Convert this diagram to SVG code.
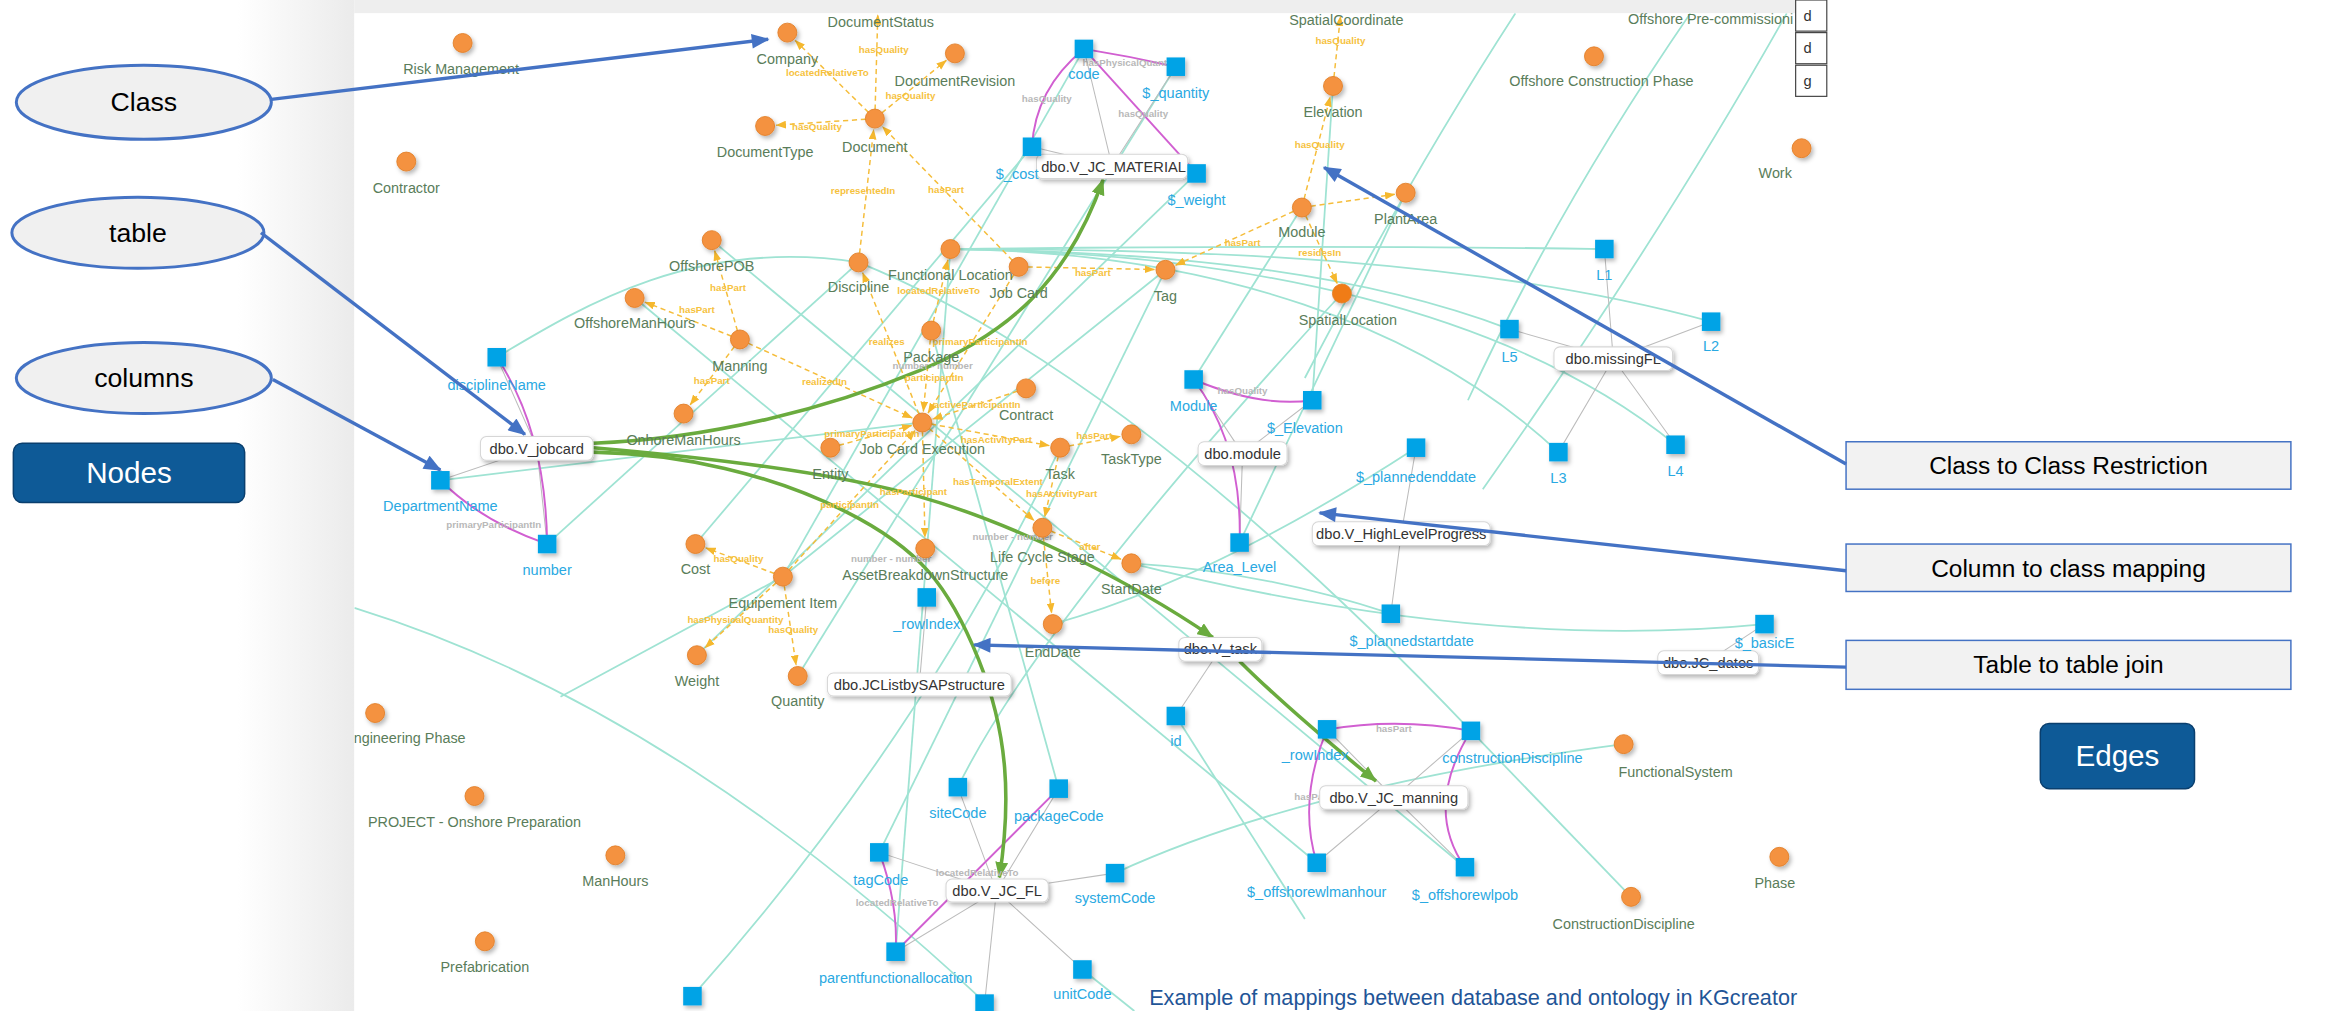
<svg xmlns="http://www.w3.org/2000/svg" width="2325" height="1011" viewBox="0 0 2325 1011">
<defs>
<style>
.cl{font-family:"Liberation Sans",Arial,sans-serif;font-size:9.7px;fill:#5a7d5a;text-anchor:middle}
.sl{font-family:"Liberation Sans",Arial,sans-serif;font-size:9.8px;fill:#2aa9e2;text-anchor:middle}
.bt{font-family:"Liberation Sans",Arial,sans-serif;font-size:9.9px;fill:#333;text-anchor:middle}
.ol{font-family:"Liberation Sans",Arial,sans-serif;font-size:6.6px;font-weight:bold;fill:#f6c23e;text-anchor:middle}
.gl{font-family:"Liberation Sans",Arial,sans-serif;font-size:6.6px;font-weight:bold;fill:#b8b8b8;text-anchor:middle}
.c{fill:#f4923f;stroke:#e2802a;stroke-width:0.6;filter:url(#sh)}
.sq{fill:#06a3e6;filter:url(#sh)}
.bx{fill:#fff;stroke:#d6d6d6;stroke-width:0.7;filter:url(#sh)}
.teal path{fill:none;stroke:#9fe3d3;stroke-width:1.2}
.gray path{fill:none;stroke:#bcbcbc;stroke-width:0.7}
.mag path{fill:none;stroke:#d15fd1;stroke-width:1.3}
.dash path{fill:none;stroke:#f5bd3b;stroke-width:1;stroke-dasharray:3.5 2.5;marker-end:url(#oa)}
.green path{fill:none;stroke:#6aab3e;stroke-width:2.4;marker-end:url(#ga)}
.blue path{fill:none;stroke:#4472c4;stroke-width:2.3;marker-end:url(#ba)}
.ell{fill:#f0f0f0;stroke:#4472c4;stroke-width:2}
.ct{font-family:"Liberation Sans",Arial,sans-serif;font-size:18px;fill:#000;text-anchor:middle}
.dk{fill:#0e5a97;stroke:#0a3f6e;stroke-width:1}
.dt{font-family:"Liberation Sans",Arial,sans-serif;font-size:20px;fill:#fff;text-anchor:middle}
.rb{fill:#f2f2f2;stroke:#4472c4;stroke-width:1}
.rt{font-family:"Liberation Sans",Arial,sans-serif;font-size:16.5px;fill:#000;text-anchor:middle}
</style>
<filter id="sh" x="-60%" y="-60%" width="220%" height="220%"><feDropShadow dx="1.4" dy="1.8" stdDeviation="1.5" flood-color="#000" flood-opacity="0.28"/></filter>
<linearGradient id="lg" x1="0" y1="0" x2="1" y2="0"><stop offset="0" stop-color="#ffffff"/><stop offset="1" stop-color="#ebebeb"/></linearGradient>
<clipPath id="pc"><rect x="239" y="9" width="993" height="673"/></clipPath>
<marker id="oa" viewBox="0 0 8 6" refX="7.5" refY="3" markerWidth="7" markerHeight="5.5" markerUnits="userSpaceOnUse" orient="auto"><path d="M0,0L8,3L0,6z" fill="#f5b82e"/></marker>
<marker id="ga" viewBox="0 0 10 8" refX="9.5" refY="4" markerWidth="11" markerHeight="9" markerUnits="userSpaceOnUse" orient="auto"><path d="M0,0L10,4L0,8z" fill="#6aab3e"/></marker>
<marker id="ba" viewBox="0 0 12 10" refX="11" refY="5" markerWidth="13" markerHeight="10" markerUnits="userSpaceOnUse" orient="auto"><path d="M0,0L12,5L0,10z" fill="#4472c4"/></marker>
</defs>
<rect width="2325" height="1011" fill="#fff"/>
<g transform="scale(1.48278 1.4824)">
<rect x="160" y="0" width="79" height="682" fill="url(#lg)"/>
<rect x="239" y="0" width="993" height="9" fill="#eeeeee"/>
<rect x="239" y="9" width="993" height="673" fill="#fff"/>

<g clip-path="url(#pc)">
<g id="connectors">
<g class="teal">
<path d="M335,241 C395,205 470,160 579,177"/>
<path d="M297,324 L622,285"/>
<path d="M369,367 L579,177"/>
<path d="M239,410 C400,460 540,560 664,676"/>
<path d="M467,672 Q620,500 715,302"/>
<path d="M593,575 L786,182"/>
<path d="M378,470 L528,389 L786,182"/>
<path d="M646,531 Q700,420 905,198"/>
<path d="M714,532 L628,223"/>
<path d="M752,589 Q880,530 1095,502"/>
<path d="M730,654 L765,682"/>
<path d="M604,642 L641,168"/>
<path d="M793,483 L880,620"/>
<path d="M805,256 L878,140"/>
<path d="M885,270 L899,58"/>
<path d="M836,366 L948,130"/>
<path d="M641,168 C800,166 950,166 1082,168"/>
<path d="M641,168 C820,168 1000,175 1154,217"/>
<path d="M641,168 C800,170 920,185 1018,222"/>
<path d="M641,168 C820,170 960,220 1051,305"/>
<path d="M641,168 C840,170 1020,210 1130,300"/>
<path d="M938,414 Q850,385 763,380"/>
<path d="M955,302 Q820,390 710,421"/>
<path d="M696,99 L469,367"/>
<path d="M731,33 L528,389"/>
<path d="M793,45 L538,456"/>
<path d="M807,117 L470,442"/>
<path d="M480,162 L988,585"/>
<path d="M428,201 L888,582"/>
<path d="M992,493 Q760,250 579,177"/>
<path d="M992,493 L1100,605"/>
<path d="M1190,421 Q1000,440 763,380"/>
<path d="M1022,9 Q950,120 880,255"/>
<path d="M1140,9 Q1050,140 990,270"/>
<path d="M1205,9 Q1120,160 1000,330"/>
</g>
<g class="gray">
<path d="M750,112 L731,33 M750,112 L793,45 M750,112 L696,99 M750,112 L807,117"/>
<path d="M362,302 L297,324 M362,302 L335,241 M362,302 L369,367"/>
<path d="M838,306 L805,256 M838,306 L885,270 M838,306 L836,366"/>
<path d="M945,360 L955,302 M945,360 L938,414"/>
<path d="M1088,242 L1082,168 M1088,242 L1154,217 M1088,242 L1018,222 M1088,242 L1051,305 M1088,242 L1130,300"/>
<path d="M1152,446 L1190,421"/>
<path d="M823,438 L793,483"/>
<path d="M620,462 L625,403"/>
<path d="M940,538 L895,492 M940,538 L992,493 M940,538 L888,582 M940,538 L988,585"/>
<path d="M672,601 L646,531 M672,601 L714,532 M672,601 L593,575 M672,601 L604,642 M672,601 L752,589 M672,601 L730,654 M672,601 L664,677"/>
</g>
<g class="mag">
<path d="M731,33 Q762,38 793,45"/>
<path d="M731,33 Q698,60 696,99"/>
<path d="M731,33 L807,117"/>
<path d="M335,241 Q368,290 369,367"/>
<path d="M297,324 Q325,352 369,367"/>
<path d="M805,256 Q838,300 836,366"/>
<path d="M805,256 Q850,275 885,270"/>
<path d="M895,492 Q943,484 992,493"/>
<path d="M895,492 Q875,540 888,582"/>
<path d="M992,493 Q960,545 988,585"/>
<path d="M593,575 Q606,610 604,642"/>
<path d="M714,532 L604,642"/>
</g>
<g class="dash">
<path d="M590,80 L536.3,27.3"/>
<path d="M590,80 L592,10"/>
<path d="M590,80 L638.2,40.7"/>
<path d="M590,80 L523.5,84.5"/>
<path d="M579,177 L589.2,87.5"/>
<path d="M687,180 L595.2,85.4"/>
<path d="M687,180 L778.5,181.8"/>
<path d="M878,140 L792.8,178.9"/>
<path d="M628,223 L639.3,175.3"/>
<path d="M622,285 L581.8,184"/>
<path d="M499,229 L482,169.2"/>
<path d="M499,229 L435,203.8"/>
<path d="M499,229 L465.5,273"/>
<path d="M499,229 L615.2,281.9"/>
<path d="M687,180 L625.9,278.6"/>
<path d="M628,223 L622.7,277.5"/>
<path d="M692,262 L629.1,282.7"/>
<path d="M622,285 L707.6,300.6"/>
<path d="M715,302 L755.6,294.4"/>
<path d="M560,302 L614.8,287"/>
<path d="M528,389 L617,290.6"/>
<path d="M622,285 L623.8,362.5"/>
<path d="M622,285 L697.4,351.1"/>
<path d="M715,302 L704.6,348.7"/>
<path d="M703,356 L756,377.2"/>
<path d="M703,356 L709.2,413.5"/>
<path d="M528,389 L476,369.6"/>
<path d="M528,389 L475.5,437"/>
<path d="M528,389 L536.9,448.6"/>
<path d="M878,140 L897.1,65.3"/>
<path d="M899,58 L904,11"/>
<path d="M878,140 L901.8,191.2"/>
<path d="M878,140 L940.6,131.1"/>
</g>
<g class="green">
<path d="M400,299 C480,296 560,275 620,250 S720,190 744,121"/>
<path d="M400,302 C470,308 560,318 620,335 S760,390 818,430"/>
<path d="M400,305 C460,306 520,320 570,345 S640,395 660,445 S682,540 674,592"/>
<path d="M836,446 C860,470 895,500 928,527"/>
</g>
<g id="edge-labels">
<text class="ol" x="558" y="51">locatedRelativeTo</text>
<text class="ol" x="596" y="36">hasQuality</text>
<text class="ol" x="614" y="67">hasQuality</text>
<text class="ol" x="551" y="88">hasQuality</text>
<text class="ol" x="582" y="131">representedIn</text>
<text class="ol" x="638" y="130">hasPart</text>
<text class="ol" x="737" y="186">hasPart</text>
<text class="ol" x="838" y="166">hasPart</text>
<text class="ol" x="633" y="198">locatedRelativeTo</text>
<text class="ol" x="598" y="233">realizes</text>
<text class="ol" x="491" y="196">hasPart</text>
<text class="ol" x="470" y="211">hasPart</text>
<text class="ol" x="480" y="259">hasPart</text>
<text class="ol" x="556" y="260">realizedIn</text>
<text class="ol" x="661" y="233">primaryParticipantIn</text>
<text class="ol" x="630" y="257">participantIn</text>
<text class="ol" x="659" y="275">activeParticipantIn</text>
<text class="ol" x="672" y="299">hasActivityPart</text>
<text class="ol" x="738" y="296">hasPart</text>
<text class="ol" x="588" y="295">primaryParticipantIn</text>
<text class="ol" x="573" y="343">participantIn</text>
<text class="ol" x="616" y="334">hasParticipant</text>
<text class="ol" x="673" y="327">hasTemporalExtent</text>
<text class="ol" x="716" y="335">hasActivityPart</text>
<text class="ol" x="735" y="371">after</text>
<text class="ol" x="705" y="394">before</text>
<text class="ol" x="498" y="379">hasQuality</text>
<text class="ol" x="496" y="420">hasPhysicalQuantity</text>
<text class="ol" x="535" y="427">hasQuality</text>
<text class="ol" x="890" y="100">hasQuality</text>
<text class="ol" x="904" y="30">hasQuality</text>
<text class="ol" x="890" y="173">residesIn</text>
<text class="gl" x="706" y="69">hasQuality</text>
<text class="gl" x="730" y="44.5" style="text-anchor:start">hasPhysicalQuantity</text>
<text class="gl" x="771" y="79">hasQuality</text>
<text class="gl" x="333" y="356">primaryParticipantIn</text>
<text class="gl" x="838" y="266">hasQuality</text>
<text class="gl" x="629" y="249">number - number</text>
<text class="gl" x="683" y="364">number - number</text>
<text class="gl" x="601" y="379">number - number</text>
<text class="gl" x="659" y="591">locatedRelativeTo</text>
<text class="gl" x="605" y="611">locatedRelativeTo</text>
<text class="gl" x="940" y="494">hasPart</text>
<text class="gl" x="885" y="540">hasPart</text>
</g>
</g>

<g id="classes">
<g id="n-risk"><circle class="c" cx="312" cy="29" r="6.4"/><text class="cl" x="311" y="50">Risk Management</text></g>
<g id="n-contractor"><circle class="c" cx="274" cy="109" r="6.4"/><text class="cl" x="274" y="130">Contractor</text></g>
<g id="n-company"><circle class="c" cx="531" cy="22" r="6.4"/><text class="cl" x="531" y="43">Company</text></g>
<g id="n-docstatus"><text class="cl" x="594" y="18">DocumentStatus</text></g>
<g id="n-docrevision"><circle class="c" cx="644" cy="36" r="6.4"/><text class="cl" x="644" y="58">DocumentRevision</text></g>
<g id="n-doctype"><circle class="c" cx="516" cy="85" r="6.4"/><text class="cl" x="516" y="106">DocumentType</text></g>
<g id="n-document"><circle class="c" cx="590" cy="80" r="6.4"/><text class="cl" x="590" y="102.5">Document</text></g>
<g id="n-discipline"><circle class="c" cx="579" cy="177" r="6.4"/><text class="cl" x="579" y="197">Discipline</text></g>
<g id="n-offshorepob"><circle class="c" cx="480" cy="162" r="6.4"/><text class="cl" x="480" y="183">OffshorePOB</text></g>
<g id="n-offshoremanhours"><circle class="c" cx="428" cy="201" r="6.4"/><text class="cl" x="428" y="221">OffshoreManHours</text></g>
<g id="n-manning"><circle class="c" cx="499" cy="229" r="6.4"/><text class="cl" x="499" y="250">Manning</text></g>
<g id="n-onhoremanhours"><circle class="c" cx="461" cy="279" r="6.4"/><text class="cl" x="461" y="300">OnhoreManHours</text></g>
<g id="n-functionallocation"><circle class="c" cx="641" cy="168" r="6.4"/><text class="cl" x="641" y="189">Functional Location</text></g>
<g id="n-jobcard"><circle class="c" cx="687" cy="180" r="6.4"/><text class="cl" x="687" y="201">Job Card</text></g>
<g id="n-tag"><circle class="c" cx="786" cy="182" r="6.4"/><text class="cl" x="786" y="203">Tag</text></g>
<g id="n-package"><circle class="c" cx="628" cy="223" r="6.4"/><text class="cl" x="628" y="244">Package</text></g>
<g id="n-contract"><circle class="c" cx="692" cy="262" r="6.4"/><text class="cl" x="692" y="283">Contract</text></g>
<g id="n-jce"><circle class="c" cx="622" cy="285" r="6.4"/><text class="cl" x="622" y="306">Job Card Execution</text></g>
<g id="n-task"><circle class="c" cx="715" cy="302" r="6.4"/><text class="cl" x="715" y="323">Task</text></g>
<g id="n-tasktype"><circle class="c" cx="763" cy="293" r="6.4"/><text class="cl" x="763" y="313">TaskType</text></g>
<g id="n-entity"><circle class="c" cx="560" cy="302" r="6.4"/><text class="cl" x="560" y="323">Entity</text></g>
<g id="n-cost"><circle class="c" cx="469" cy="367" r="6.4"/><text class="cl" x="469" y="387">Cost</text></g>
<g id="n-equip"><circle class="c" cx="528" cy="389" r="6.4"/><text class="cl" x="528" y="410">Equipement Item</text></g>
<g id="n-weight"><circle class="c" cx="470" cy="442" r="6.4"/><text class="cl" x="470" y="463">Weight</text></g>
<g id="n-quantity"><circle class="c" cx="538" cy="456" r="6.4"/><text class="cl" x="538" y="476">Quantity</text></g>
<g id="n-abs"><circle class="c" cx="624" cy="370" r="6.4"/><text class="cl" x="624" y="391">AssetBreakdownStructure</text></g>
<g id="n-lcs"><circle class="c" cx="703" cy="356" r="6.4"/><text class="cl" x="703" y="379">Life Cycle Stage</text></g>
<g id="n-startdate"><circle class="c" cx="763" cy="380" r="6.4"/><text class="cl" x="763" y="401">StartDate</text></g>
<g id="n-enddate"><circle class="c" cx="710" cy="421" r="6.4"/><text class="cl" x="710" y="443">EndDate</text></g>
<g id="n-moduleclass"><circle class="c" cx="878" cy="140" r="6.4"/><text class="cl" x="878" y="160">Module</text></g>
<g id="n-plantarea"><circle class="c" cx="948" cy="130" r="6.4"/><text class="cl" x="948" y="151">PlantArea</text></g>
<g id="n-elevation"><circle class="c" cx="899" cy="58" r="6.4"/><text class="cl" x="899" y="79">Elevation</text></g>
<g id="n-spatialcoord"><text class="cl" x="908" y="17">SpatialCoordinate</text></g>
<g id="n-spatiallocation"><circle class="c" cx="905" cy="198" r="6.4" style="fill:#f07b14"/><text class="cl" x="909" y="219">SpatialLocation</text></g>
<g id="n-offconstruction"><circle class="c" cx="1075" cy="38" r="6.4"/><text class="cl" x="1080" y="58">Offshore Construction Phase</text></g>
<g id="n-offprecomm"><text class="cl" x="1098" y="16" style="text-anchor:start">Offshore Pre-commissioni</text></g>
<g id="n-work"><circle class="c" cx="1215" cy="100" r="6.4"/><text class="cl" x="1186" y="120" style="text-anchor:start">Work</text></g>
<g id="n-functionalsystem"><circle class="c" cx="1095" cy="502" r="6.4"/><text class="cl" x="1130" y="524">FunctionalSystem</text></g>
<g id="n-constructiondiscipline"><circle class="c" cx="1100" cy="605" r="6.4"/><text class="cl" x="1095" y="627">ConstructionDiscipline</text></g>
<g id="n-phase"><circle class="c" cx="1200" cy="578" r="6.4"/><text class="cl" x="1197" y="599">Phase</text></g>
<g id="n-engphase"><circle class="c" cx="253" cy="481" r="6.4"/><text class="cl" x="314" y="501" style="text-anchor:end">ngineering Phase</text></g>
<g id="n-onshoreprep"><circle class="c" cx="320" cy="537" r="6.4"/><text class="cl" x="320" y="558">PROJECT -  Onshore Preparation</text></g>
<g id="n-manhours"><circle class="c" cx="415" cy="577" r="6.4"/><text class="cl" x="415" y="598">ManHours</text></g>
<g id="n-prefab"><circle class="c" cx="327" cy="635" r="6.4"/><text class="cl" x="327" y="656">Prefabrication</text></g>
</g>

<g id="tables">
<g id="t-material"><rect class="bx" x="699" y="104" width="102" height="16.5" rx="4"/><text class="bt" x="751" y="115.8">dbo.V_JC_MATERIAL</text></g>
<g id="t-jobcard"><rect class="bx" x="324" y="294.5" width="76" height="16" rx="4"/><text class="bt" x="362" y="306">dbo.V_jobcard</text></g>
<g id="t-module"><rect class="bx" x="808" y="298" width="60" height="16" rx="4"/><text class="bt" x="838" y="309.5">dbo.module</text></g>
<g id="t-hlp"><rect class="bx" x="885" y="352" width="120" height="16" rx="4"/><text class="bt" x="945" y="363.5">dbo.V_HighLevelProgress</text></g>
<g id="t-missingfl"><rect class="bx" x="1048" y="234" width="80" height="16" rx="4"/><text class="bt" x="1088" y="245.5">dbo.missingFL</text></g>
<g id="t-jcdates"><rect class="bx" x="1118" y="439" width="68" height="16" rx="4"/><text class="bt" x="1152" y="450.5">dbo.JC_dates</text></g>
<g id="t-vtask"><rect class="bx" x="795" y="430" width="56" height="16" rx="4"/><text class="bt" x="823" y="441.5">dbo.V_task</text></g>
<g id="t-jclist"><rect class="bx" x="558" y="454" width="124" height="15.5" rx="4"/><text class="bt" x="620" y="465.3">dbo.JCListbySAPstructure</text></g>
<g id="t-manning"><rect class="bx" x="890" y="530" width="100" height="16" rx="4"/><text class="bt" x="940" y="541.5">dbo.V_JC_manning</text></g>
<g id="t-jcfl"><rect class="bx" x="638" y="593" width="69" height="15.5" rx="4"/><text class="bt" x="672.5" y="604.5">dbo.V_JC_FL</text></g>
</g>

<g id="columns">
<g id="col-code"><rect class="sq" x="724.75" y="26.75" width="12.5" height="12.5"/><text class="sl" x="731" y="53.5">code</text></g>
<g id="col-quantity"><rect class="sq" x="786.75" y="38.75" width="12.5" height="12.5"/><text class="sl" x="793" y="66">$_quantity</text></g>
<g id="col-cost"><rect class="sq" x="689.75" y="92.75" width="12.5" height="12.5"/><text class="sl" x="686" y="121">$_cost</text></g>
<g id="col-weight"><rect class="sq" x="800.75" y="110.75" width="12.5" height="12.5"/><text class="sl" x="807" y="138">$_weight</text></g>
<g id="col-disciplinename"><rect class="sq" x="328.75" y="234.75" width="12.5" height="12.5"/><text class="sl" x="335" y="263">disciplineName</text></g>
<g id="col-departmentname"><rect class="sq" x="290.75" y="317.75" width="12.5" height="12.5"/><text class="sl" x="297" y="345">DepartmentName</text></g>
<g id="col-number"><rect class="sq" x="362.75" y="360.75" width="12.5" height="12.5"/><text class="sl" x="369" y="388">number</text></g>
<g id="col-module"><rect class="sq" x="798.75" y="249.75" width="12.5" height="12.5"/><text class="sl" x="805" y="277">Module</text></g>
<g id="col-elevation"><rect class="sq" x="878.75" y="263.75" width="12.5" height="12.5"/><text class="sl" x="880" y="292">$_Elevation</text></g>
<g id="col-arealevel"><rect class="sq" x="829.75" y="359.75" width="12.5" height="12.5"/><text class="sl" x="836" y="386">Area_Level</text></g>
<g id="col-plannedend"><rect class="sq" x="948.75" y="295.75" width="12.5" height="12.5"/><text class="sl" x="955" y="325">$_plannedenddate</text></g>
<g id="col-plannedstart"><rect class="sq" x="931.75" y="407.75" width="12.5" height="12.5"/><text class="sl" x="952" y="436">$_plannedstartdate</text></g>
<g id="col-l1"><rect class="sq" x="1075.75" y="161.75" width="12.5" height="12.5"/><text class="sl" x="1082" y="189">L1</text></g>
<g id="col-l2"><rect class="sq" x="1147.75" y="210.75" width="12.5" height="12.5"/><text class="sl" x="1154" y="237">L2</text></g>
<g id="col-l5"><rect class="sq" x="1011.75" y="215.75" width="12.5" height="12.5"/><text class="sl" x="1018" y="244">L5</text></g>
<g id="col-l3"><rect class="sq" x="1044.75" y="298.75" width="12.5" height="12.5"/><text class="sl" x="1051" y="326">L3</text></g>
<g id="col-l4"><rect class="sq" x="1123.75" y="293.75" width="12.5" height="12.5"/><text class="sl" x="1130" y="321">L4</text></g>
<g id="col-basice"><rect class="sq" x="1183.75" y="414.75" width="12.5" height="12.5"/><text class="sl" x="1190" y="437">$_basicE</text></g>
<g id="col-id"><rect class="sq" x="786.75" y="476.75" width="12.5" height="12.5"/><text class="sl" x="793" y="503">id</text></g>
<g id="col-rowindex1"><rect class="sq" x="618.75" y="396.75" width="12.5" height="12.5"/><text class="sl" x="625" y="424">_rowIndex</text></g>
<g id="col-rowindex2"><rect class="sq" x="888.75" y="485.75" width="12.5" height="12.5"/><text class="sl" x="887" y="513">_rowIndex</text></g>
<g id="col-constructiondiscipline"><rect class="sq" x="985.75" y="486.75" width="12.5" height="12.5"/><text class="sl" x="1020" y="515">constructionDiscipline</text></g>
<g id="col-offshorewlmanhour"><rect class="sq" x="881.75" y="575.75" width="12.5" height="12.5"/><text class="sl" x="888" y="605">$_offshorewlmanhour</text></g>
<g id="col-offshorewlpob"><rect class="sq" x="981.75" y="578.75" width="12.5" height="12.5"/><text class="sl" x="988" y="607">$_offshorewlpob</text></g>
<g id="col-sitecode"><rect class="sq" x="639.75" y="524.75" width="12.5" height="12.5"/><text class="sl" x="646" y="552">siteCode</text></g>
<g id="col-packagecode"><rect class="sq" x="707.75" y="525.75" width="12.5" height="12.5"/><text class="sl" x="714" y="554">packageCode</text></g>
<g id="col-tagcode"><rect class="sq" x="586.75" y="568.75" width="12.5" height="12.5"/><text class="sl" x="594" y="597">tagCode</text></g>
<g id="col-parentfl"><rect class="sq" x="597.75" y="635.75" width="12.5" height="12.5"/><text class="sl" x="604" y="663">parentfunctionallocation</text></g>
<g id="col-systemcode"><rect class="sq" x="745.75" y="582.75" width="12.5" height="12.5"/><text class="sl" x="752" y="609">systemCode</text></g>
<g id="col-unitcode"><rect class="sq" x="723.75" y="647.75" width="12.5" height="12.5"/><text class="sl" x="730" y="674">unitCode</text></g>
<g id="col-bottom1"><rect class="sq" x="657.75" y="670.75" width="12.5" height="12.5"/></g>
<g id="col-bottom2"><rect class="sq" x="460.75" y="665.75" width="12.5" height="12.5"/></g>
</g>
</g>

<g id="corner-table">
<rect x="1211" y="0" width="21" height="21" fill="#fff" stroke="#444" stroke-width="0.8"/>
<rect x="1211" y="22" width="21" height="21" fill="#fff" stroke="#444" stroke-width="0.8"/>
<rect x="1211" y="44" width="21" height="21" fill="#fff" stroke="#444" stroke-width="0.8"/>
<text class="bt" x="1219" y="14">d</text>
<text class="bt" x="1219" y="36">d</text>
<text class="bt" x="1219" y="58">g</text>
</g>

<text x="775" y="678" textLength="437" lengthAdjust="spacingAndGlyphs" style="font-family:'Liberation Sans',Arial,sans-serif;font-size:15px;fill:#1f5597">Example of mappings between database and ontology in KGcreator</text>

<g id="callouts">
<g id="co-class"><ellipse class="ell" cx="97" cy="69" rx="86" ry="25"/><text class="ct" x="97" y="75">Class</text></g>
<g id="co-table"><ellipse class="ell" cx="93" cy="157" rx="85" ry="24"/><text class="ct" x="93" y="163">table</text></g>
<g id="co-columns"><ellipse class="ell" cx="97" cy="255" rx="86" ry="24"/><text class="ct" x="97" y="261">columns</text></g>
<g id="co-nodes"><rect class="dk" x="9" y="299" width="156" height="40" rx="6"/><text class="dt" x="87" y="326">Nodes</text></g>
<g id="co-cc"><rect class="rb" x="1245" y="298" width="300" height="32"/><text class="rt" x="1395" y="320">Class to Class Restriction</text></g>
<g id="co-colclass"><rect class="rb" x="1245" y="367" width="300" height="32"/><text class="rt" x="1395" y="389">Column to class mapping</text></g>
<g id="co-join"><rect class="rb" x="1245" y="432" width="300" height="33"/><text class="rt" x="1395" y="454">Table to table join</text></g>
<g id="co-edges"><rect class="dk" x="1376" y="488" width="104" height="44" rx="6"/><text class="dt" x="1428" y="517">Edges</text></g>
<g class="blue">
<path d="M183,67 L518,26.5"/>
<path d="M176,157 L354,293"/>
<path d="M184,256 L297,317"/>
<path d="M1245,313 L893,113"/>
<path d="M1245,385 L890,346"/>
<path d="M1245,450 L657,435"/>
</g>
</g>
</g>
</svg>
